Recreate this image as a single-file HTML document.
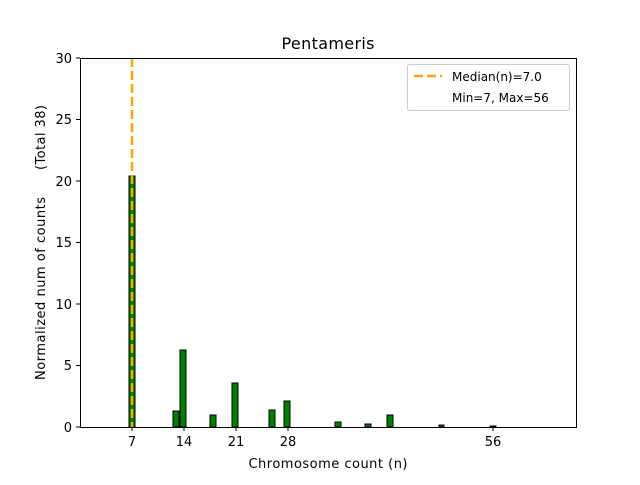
<!DOCTYPE html>
<html><head><style>body{margin:0;background:#fff}</style></head><body>
<svg width="640" height="480" xmlns="http://www.w3.org/2000/svg" font-family="DejaVu Sans, Liberation Sans, sans-serif" font-size="12">
<rect width="640" height="480" fill="#fff"/>
<g fill="#008000" stroke="#000" stroke-width="1">
<rect x="129" y="176" width="6" height="251"/>
<rect x="173" y="411" width="6" height="16"/>
<rect x="180" y="350" width="6" height="77"/>
<rect x="210" y="415" width="6" height="12"/>
<rect x="232" y="383" width="6" height="44"/>
<rect x="269" y="410" width="6" height="17"/>
<rect x="284" y="401" width="6" height="26"/>
<rect x="335" y="422" width="6" height="5"/>
<rect x="365" y="424" width="6" height="3"/>
<rect x="387" y="415" width="6" height="12"/>
<rect x="439" y="425" width="5" height="2"/>
<rect x="490" y="426" width="6" height="1"/>
</g>
<line x1="132" y1="58" x2="132" y2="427" stroke="#FFA500" stroke-width="2.5" stroke-dasharray="9,4"/>
<rect x="80.5" y="58.5" width="496" height="369" fill="none" stroke="#000"/>
<g stroke="#000">
<line x1="132" y1="427" x2="132" y2="431"/><line x1="184" y1="427" x2="184" y2="431"/>
<line x1="236" y1="427" x2="236" y2="431"/><line x1="288" y1="427" x2="288" y2="431"/>
<line x1="493" y1="427" x2="493" y2="431"/>
<line x1="76" y1="427" x2="80" y2="427"/><line x1="76" y1="365.5" x2="80" y2="365.5"/>
<line x1="76" y1="304" x2="80" y2="304"/><line x1="76" y1="242.5" x2="80" y2="242.5"/>
<line x1="76" y1="181" x2="80" y2="181"/><line x1="76" y1="119.5" x2="80" y2="119.5"/>
<line x1="76" y1="58" x2="80" y2="58"/>
</g>
<g text-anchor="middle" font-size="13">
<text x="132" y="446">7</text><text x="184" y="446">14</text><text x="236" y="446">21</text>
<text x="288" y="446">28</text><text x="493" y="446">56</text>
<text x="328" y="468" textLength="159">Chromosome count (n)</text>
<text x="328" y="49" font-size="16" textLength="93">Pentameris</text>
</g>
<g text-anchor="end" font-size="13">
<text x="72" y="432">0</text><text x="72" y="370">5</text><text x="72" y="309">10</text>
<text x="72" y="247">15</text><text x="72" y="186">20</text><text x="72" y="124">25</text>
<text x="72" y="63">30</text>
</g>
<g font-size="13">
<text transform="translate(45,380) rotate(-90)" textLength="183">Normalized num of counts</text>
<text transform="translate(45,170) rotate(-90)" textLength="65">(Total 38)</text>
</g>
<rect x="407.5" y="64.5" width="162" height="46" rx="2" fill="#fff" stroke="#ccc"/>
<line x1="414" y1="76" x2="442" y2="76" stroke="#FFA500" stroke-width="2.5" stroke-dasharray="9,4"/>
<text x="452" y="81" font-size="12">Median(n)=7.0</text>
<text x="452" y="102" font-size="12">Min=7, Max=56</text>
</svg>
</body></html>
